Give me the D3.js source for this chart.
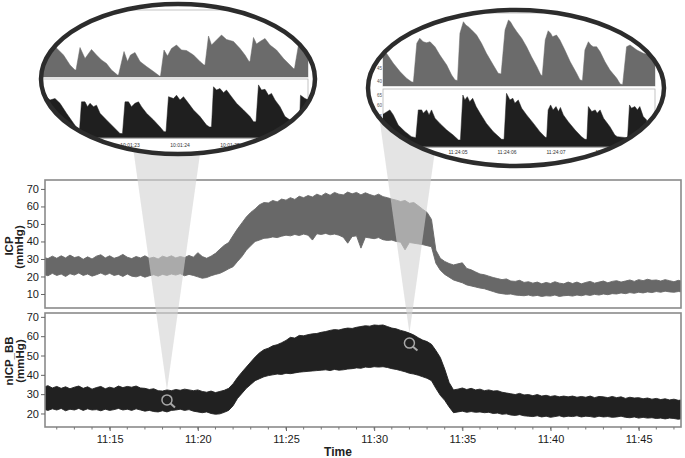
<!DOCTYPE html>
<html><head><meta charset="utf-8">
<script src="https://cdn.jsdelivr.net/npm/d3@7"></script>
<style>body{margin:0;background:#fff} svg{display:block} text{font-family:"Liberation Sans",Arial,sans-serif}</style>
</head><body><svg id="c" width="685" height="458"></svg>
<script>
// ---------- DATA ----------
const sampleStart = "11:11:15";   // first envelope sample
const sampleStepSec = 15;          // envelope sample spacing
const icpUpper = [
31.0,30.2,31.6,30.4,31.8,30.6,32.2,30.8,31.4,29.8,
31.2,30.0,31.6,32.4,30.6,31.8,30.4,31.2,32.6,31.0,
30.2,31.4,30.6,31.8,30.4,31.0,30.0,31.6,30.8,31.8,
30.6,31.4,30.8,32.0,31.0,33.6,31.4,30.4,31.6,33.2,
35.6,37.8,39.4,43.4,47.2,50.6,54.0,56.6,58.6,61.0,
62.2,62.0,63.4,62.6,64.2,63.6,65.0,64.0,65.8,65.0,
66.2,65.4,67.0,66.0,67.6,66.4,68.0,67.0,66.6,68.2,
67.2,68.0,66.6,67.8,66.8,66.0,67.0,65.6,65.0,64.2,
63.6,62.8,63.4,61.8,62.2,60.4,58.4,56.6,52.6,35.0,
30.4,28.6,27.4,26.6,27.2,27.8,24.6,23.8,22.6,21.4,
21.0,20.2,19.4,18.8,18.2,18.6,17.4,17.2,17.8,16.6,
17.0,16.2,16.8,15.8,16.6,16.0,17.0,16.2,15.8,16.8,
16.0,16.8,15.8,16.6,17.2,16.2,16.8,17.4,16.4,17.2,
17.6,16.8,17.4,18.0,17.2,18.2,17.6,18.4,17.8,18.0,
17.4,18.2,17.6,17.0,17.8,17.2];
const icpLower = [
21.2,20.4,21.8,20.6,21.4,20.0,21.6,20.8,22.0,20.6,
21.4,20.2,21.0,22.0,20.8,21.8,20.6,21.2,20.0,21.4,
20.2,19.8,20.6,19.6,20.4,21.0,20.2,21.2,20.6,21.4,
20.8,21.6,20.4,21.2,20.6,19.8,19.0,19.4,20.4,21.2,
21.8,23.0,24.4,25.6,28.6,31.4,35.0,37.6,40.0,40.8,
41.8,42.0,42.6,42.2,43.0,43.6,43.2,44.0,43.4,44.2,
43.6,40.8,44.4,44.0,44.6,43.8,44.2,43.6,42.4,39.0,
42.8,43.2,36.2,42.4,42.0,41.6,42.2,41.0,40.6,40.8,
40.0,39.6,35.2,39.4,39.0,38.6,38.2,37.6,37.0,27.6,
23.6,21.2,19.6,18.0,17.2,16.4,15.2,14.6,14.0,13.4,
13.0,12.2,11.4,10.6,10.2,9.8,10.0,9.4,9.2,9.0,
9.4,8.8,9.2,8.6,9.0,8.8,9.4,8.6,9.0,9.2,
8.8,9.4,9.0,9.6,9.2,9.8,9.4,10.0,9.6,10.2,
10.0,10.6,10.2,10.8,10.4,11.0,10.6,11.2,10.8,11.4,
11.0,11.6,11.2,11.0,11.4,11.2];
const nicpUpper = [
33.6,34.4,33.2,34.0,33.0,33.8,32.8,33.6,34.2,33.0,
33.8,32.6,33.4,34.0,32.8,33.6,33.0,34.2,33.4,34.0,
33.6,34.2,33.2,33.0,32.4,32.8,31.8,31.6,32.2,31.8,
32.4,32.0,32.6,32.2,31.8,32.2,31.4,31.0,31.6,30.8,
31.4,32.0,33.0,35.4,38.6,41.4,44.0,46.6,49.2,51.4,
53.0,53.8,55.0,55.6,56.6,57.8,59.4,59.0,60.4,60.2,
60.8,61.2,61.4,62.0,62.4,63.0,63.4,63.2,63.8,64.2,
64.0,64.6,65.0,65.4,65.2,65.8,65.6,65.8,65.0,64.2,
63.8,63.0,62.4,61.6,60.6,59.2,58.0,57.2,55.8,52.6,
49.0,43.0,36.0,32.2,32.6,33.2,32.4,33.0,32.2,32.6,
31.8,32.2,31.6,31.8,31.0,30.6,30.2,29.8,30.4,29.6,
29.8,29.2,29.8,29.0,29.4,28.8,29.2,28.6,29.0,28.6,
29.0,28.4,28.8,28.4,29.0,28.2,28.8,28.6,28.2,28.8,
28.2,28.6,27.8,28.4,28.0,28.2,27.6,28.0,27.4,27.8,
27.2,27.6,27.0,27.4,26.8,27.0];
const nicpLower = [
22.2,21.6,22.4,21.8,22.6,21.4,22.2,21.8,22.6,21.6,
22.4,21.8,22.0,21.4,22.2,21.6,22.0,22.6,21.8,22.2,
21.6,22.4,21.8,21.2,21.6,21.0,20.8,21.4,20.8,21.6,
21.8,22.2,21.6,22.0,21.2,20.8,20.4,20.8,20.0,19.6,
19.8,20.6,21.6,24.0,27.8,30.4,33.0,35.0,37.0,38.0,
39.0,39.6,40.0,40.4,40.2,40.8,40.6,41.0,41.4,41.6,
41.8,42.0,42.2,42.4,42.6,42.2,42.8,42.4,42.6,43.0,
43.2,43.6,43.4,44.0,43.8,44.2,44.0,44.2,43.8,43.2,
42.8,42.2,41.6,40.8,40.4,39.8,39.0,38.2,37.0,33.0,
29.4,26.8,23.4,20.4,20.8,21.2,20.6,21.0,20.6,20.8,
20.4,20.6,20.0,20.2,19.6,19.8,19.2,19.0,19.4,18.8,
18.6,18.4,18.8,18.2,18.6,18.0,18.4,18.8,18.2,18.6,
18.4,18.8,18.2,18.6,18.4,18.0,18.6,18.2,18.4,18.0,
18.2,18.6,18.0,17.8,18.2,17.6,18.0,17.6,17.8,17.4,
17.6,17.2,17.6,17.4,17.0,17.4];
const yTicksICP = [10,20,30,40,50,60,70];
const yTicksNICP = [20,30,40,50,60,70];
const xTickLabels = ["11:15","11:20","11:25","11:30","11:35","11:40","11:45"];
const zoomTimes = ["11:18:15","11:32:00"];

// inset waveforms: [seconds, mmHg]
const insetL_icp = [
[21.23,26.4],[21.37,28.1],[21.47,27.4],[21.57,26.4],[21.67,25.4],[21.8,23.4],[21.9,22.4],
[21.92,22.4],[22.0,26.9],[22.1,24.7],[22.23,26.5],[22.33,25.4],[22.43,24.4],[22.53,23.7],[22.63,22.4],[22.75,21.4],
[22.77,21.4],[22.88,26.1],[22.95,24.1],[23.01,25.4],[23.1,25.9],[23.2,24.1],[23.33,23.1],[23.47,22.1],[23.59,21.2],
[23.61,21.2],[23.68,26.4],[23.75,25.2],[23.83,26.7],[23.93,27.4],[24.03,26.4],[24.13,26.3],[24.27,25.4],[24.4,24.1],[24.48,23.4],
[24.5,23.4],[24.57,29.2],[24.63,27.4],[24.7,28.1],[24.83,29.4],[24.93,28.5],[25.07,28.1],[25.2,26.7],[25.3,25.4],[25.38,24.1],
[25.4,24.1],[25.47,28.9],[25.53,27.6],[25.6,28.1],[25.7,28.7],[25.8,27.4],[25.93,26.4],[26.07,24.7],[26.2,23.4],[26.27,22.7],
[26.29,22.7],[26.37,27.4],[26.47,26.4],[26.57,25.7]];
const insetL_nicp = [
[21.23,30.3],[21.33,31.2],[21.4,30.3],[21.5,30.7],[21.6,29.4],[21.73,26.7],[21.87,24.0],[21.97,22.1],
[21.99,22.1],[22.03,29.8],[22.1,29.8],[22.15,28.5],[22.2,29.4],[22.27,28.5],[22.33,28.9],[22.4,26.7],[22.53,24.9],[22.67,23.0],[22.8,21.2],
[22.85,21.2],[22.9,29.8],[22.97,29.8],[23.03,28.5],[23.1,29.4],[23.17,29.8],[23.23,28.5],[23.33,26.7],[23.47,24.9],[23.6,23.0],[23.68,21.7],
[23.72,21.7],[23.77,31.2],[23.87,30.7],[23.93,31.6],[24.0,30.3],[24.07,31.2],[24.17,29.4],[24.27,27.6],[24.4,25.8],[24.53,23.5],[24.59,23.0],
[24.63,23.0],[24.67,33.9],[24.73,33.0],[24.8,33.4],[24.87,32.3],[24.93,33.0],[25.03,31.2],[25.13,29.4],[25.27,27.6],[25.4,25.8],[25.47,24.4],
[25.52,24.4],[25.57,34.4],[25.63,33.0],[25.7,33.2],[25.77,31.6],[25.83,32.1],[25.9,30.3],[26.0,28.5],[26.1,25.8],[26.2,24.9],[26.37,24.0],
[26.39,24.0],[26.41,31.6],[26.5,30.7],[26.57,30.3]];
const insetR_icp = [
[3.44,52.4],[3.54,51.1],[3.68,47.1],[3.82,43.7],[3.95,41.1],[4.05,39.7],
[4.09,39.5],[4.16,55.1],[4.22,57.1],[4.29,55.7],[4.36,55.3],[4.43,55.7],[4.53,53.7],[4.63,50.4],[4.77,46.4],[4.87,42.4],[4.94,40.4],
[4.99,40.2],[5.04,59.1],[5.11,63.7],[5.16,62.4],[5.21,61.7],[5.28,60.4],[5.38,58.4],[5.48,55.1],[5.58,51.1],[5.72,46.4],[5.82,43.1],
[5.88,42.8],[5.96,60.4],[6.03,64.4],[6.07,63.7],[6.13,61.7],[6.2,59.7],[6.3,57.1],[6.4,53.7],[6.5,49.7],[6.61,45.7],[6.69,42.4],
[6.72,42.2],[6.78,56.4],[6.84,60.1],[6.89,59.1],[6.93,57.7],[7.01,58.4],[7.08,56.4],[7.18,52.4],[7.29,47.7],[7.42,43.1],[7.49,40.4],
[7.54,40.2],[7.59,52.4],[7.66,55.7],[7.71,54.4],[7.76,53.7],[7.83,53.7],[7.9,51.7],[8.0,47.7],[8.1,44.4],[8.24,41.1],[8.31,38.8],
[8.36,38.6],[8.44,53.7],[8.51,54.4],[8.65,52.4],[8.78,51.1],[9.02,49.7]];
const insetR_nicp = [
[3.45,55.5],[3.61,57.9],[3.68,55.5],[3.78,50.6],[3.92,47.4],[4.05,45.0],
[4.14,44.5],[4.19,57.9],[4.26,57.9],[4.29,56.3],[4.36,57.9],[4.41,55.5],[4.46,57.9],[4.53,53.9],[4.63,51.4],[4.77,48.2],[4.9,45.8],[5.01,43.4],
[5.05,43.4],[5.1,65.1],[5.14,62.7],[5.19,64.3],[5.24,61.9],[5.3,63.5],[5.37,59.5],[5.45,56.3],[5.58,51.4],[5.72,47.4],[5.89,43.7],
[5.94,43.7],[5.99,65.9],[6.06,62.7],[6.12,63.5],[6.16,61.1],[6.23,62.7],[6.3,58.7],[6.4,55.5],[6.54,51.4],[6.67,47.4],[6.78,44.7],
[6.81,44.7],[6.84,57.9],[6.89,60.3],[6.94,57.9],[7.0,59.5],[7.05,57.1],[7.09,59.1],[7.15,55.5],[7.25,52.2],[7.39,48.2],[7.52,45.0],[7.59,43.7],
[7.63,43.7],[7.66,59.5],[7.73,57.1],[7.8,57.9],[7.84,56.3],[7.9,57.9],[7.97,53.9],[8.1,49.8],[8.2,45.8],[8.25,45.0],[8.44,44.5],
[8.46,44.5],[8.5,60.3],[8.54,58.7],[8.61,59.5],[8.66,57.9],[8.71,59.5],[8.78,54.7],[8.85,53.0]];
const insetL_secTicks = [22,23,24,25,26];
const insetR_secTicks = [4,5,6,7,8];
const insetL_prefix = "10:01:";
const insetR_prefix = "11:24:";
const insetL_yTicksTop = [22,24,26,28,30,32,34];
const insetL_yTicksBot = [22,24,26,28,30,32,34];
const insetR_yTicksTop = [40,45,50,55,60,65];
const insetR_yTicksBot = [45,50,55,60,65];

// ---------- DRAW ----------
const svg = d3.select("#c");
const defs = svg.append("defs");
const parseHMS = d3.timeParse("%H:%M:%S"), parseHM = d3.timeParse("%H:%M");
const t0 = parseHMS(sampleStart);
const times = icpUpper.map((_, i) => new Date(t0.getTime() + i * sampleStepSec * 1000));

const L = 45, R = 681;
const A = {top: 180, bot: 308}, B = {top: 313, bot: 427};
const x = d3.scaleTime().domain([parseHMS("11:11:20"), parseHMS("11:47:24")]).range([L, R]);
const yA = d3.scaleLinear().domain([2, 75.1]).range([A.bot, A.top]);
const yB = d3.scaleLinear().domain([13, 72]).range([B.bot, B.top]);
const font = "'Liberation Sans',Arial,sans-serif";

function clipRect(id, x0, y0, x1, y1) {
  defs.append("clipPath").attr("id", id).append("rect")
    .attr("x", x0).attr("y", y0).attr("width", x1 - x0).attr("height", y1 - y0);
}
clipRect("cA", L, A.top, R, A.bot);
clipRect("cB", L, B.top, R, B.bot);

const areaA = d3.area().x((d, i) => x(times[i])).y0((d, i) => yA(icpLower[i])).y1(d => yA(d));
const areaB = d3.area().x((d, i) => x(times[i])).y0((d, i) => yB(nicpLower[i])).y1(d => yB(d));

svg.append("g").attr("clip-path", "url(#cA)").append("path").datum(icpUpper)
  .attr("d", areaA).attr("fill", "#686868").attr("stroke", "#686868").attr("stroke-width", 0.9);
svg.append("g").attr("clip-path", "url(#cB)").append("path").datum(nicpUpper)
  .attr("d", areaB).attr("fill", "#212121").attr("stroke", "#212121").attr("stroke-width", 0.9);

// frames
[A, B].forEach(p => svg.append("rect").attr("x", L).attr("y", p.top).attr("width", R - L)
  .attr("height", p.bot - p.top).attr("fill", "none").attr("stroke", "#8a8a8a").attr("stroke-width", 1.6));

// axes
function styleAxis(g) {
  g.select(".domain").remove();
  g.selectAll(".tick line").attr("stroke", "#666");
  g.selectAll(".tick text").attr("font-size", 11).attr("fill", "#1a1a1a").attr("font-family", font);
}
svg.append("g").attr("transform", `translate(${L},0)`)
  .call(d3.axisLeft(yA).tickValues(yTicksICP).tickSize(4).tickPadding(2)).call(styleAxis);
svg.append("g").attr("transform", `translate(${L},0)`)
  .call(d3.axisLeft(yB).tickValues(yTicksNICP).tickSize(4).tickPadding(2)).call(styleAxis);
svg.append("g").attr("transform", `translate(0,${B.bot})`)
  .call(d3.axisBottom(x).tickValues(xTickLabels.map(parseHM)).tickFormat(d3.timeFormat("%H:%M")).tickSize(4).tickPadding(4))
  .call(styleAxis);
svg.append("g").selectAll("line").data(d3.timeMinute.range(parseHMS("11:12:00"), parseHMS("11:47:01")))
  .join("line").attr("x1", d => x(d)).attr("x2", d => x(d)).attr("y1", B.bot).attr("y2", B.bot + 2.5)
  .attr("stroke", "#777").attr("stroke-width", 1);

// axis titles
function vtext(xp, yp, s) {
  svg.append("text").attr("transform", `translate(${xp},${yp}) rotate(-90)`).attr("text-anchor", "middle")
    .attr("font-size", 11.5).attr("font-weight", "bold").attr("fill", "#222").attr("font-family", font).text(s);
}
vtext(13, 246, "ICP"); vtext(23, 247, "(mmHg)");
vtext(13, 361, "nICP_BB"); vtext(24, 361, "(mmHg)");
svg.append("text").attr("x", 338).attr("y", 456).attr("text-anchor", "middle").attr("font-size", 12)
  .attr("font-weight", "bold").attr("fill", "#222").attr("font-family", font).text("Time");

// insets geometry
const insetGeo = [
  {id: "iL", cx: 178, cy: 79, rx: 137, ry: 75, x0: 42, x1: 308, top: [10, 77], bot: [79, 138], labY: 147,
   sDom: [21.24, 26.56], yDomTop: [21, 34.4], yDomBot: [20, 36], dataTop: insetL_icp, dataBot: insetL_nicp,
   yTicksTop: insetL_yTicksTop, yTicksBot: insetL_yTicksBot, secTicks: insetL_secTicks, prefix: insetL_prefix},
  {id: "iR", cx: 516, cy: 88, rx: 148, ry: 78, x0: 383, x1: 655, top: [13, 86], bot: [89, 147], labY: 154,
   sDom: [3.47, 9.02], yDomTop: [38, 67.2], yDomBot: [40, 68], dataTop: insetR_icp, dataBot: insetR_nicp,
   yTicksTop: insetR_yTicksTop, yTicksBot: insetR_yTicksBot, secTicks: insetR_secTicks, prefix: insetR_prefix}
];

// funnels (drawn under the insets, which cover their upper ends)
const slope = 0.14;
zoomTimes.forEach((zt, k) => {
  const e = insetGeo[k];
  const td = parseHMS(zt);
  const idx = d3.minIndex(times, t => Math.abs(t - td));
  const ax = x(td), ay = yB(nicpUpper[idx]);
  const topY = e.cy + 0.2 * e.ry;
  const hw = slope * (ay - topY);
  svg.append("path").attr("d", `M${ax},${ay}L${ax - hw},${topY}L${ax + hw},${topY}Z`)
    .attr("fill", "#d4d4d4").attr("fill-opacity", 0.62);
  const mg = svg.append("g").attr("fill", "none").attr("stroke", "#a8a8a8");
  mg.append("circle").attr("cx", ax).attr("cy", ay + 10).attr("r", 5).attr("stroke-width", 1.5);
  mg.append("line").attr("x1", ax + 3.6).attr("y1", ay + 13.6).attr("x2", ax + 8).attr("y2", ay + 17.5)
    .attr("stroke-width", 2);
});

function inset(cfg) {
  const id = cfg.id;
  defs.append("clipPath").attr("id", id + "e").append("ellipse")
    .attr("cx", cfg.cx).attr("cy", cfg.cy).attr("rx", cfg.rx - 1).attr("ry", cfg.ry - 1);
  svg.append("ellipse").attr("cx", cfg.cx).attr("cy", cfg.cy).attr("rx", cfg.rx).attr("ry", cfg.ry).attr("fill", "#fff");
  const g = svg.append("g").attr("clip-path", `url(#${id}e)`);
  const sx = d3.scaleLinear().domain(cfg.sDom).range([cfg.x0, cfg.x1]);
  [["t", cfg.top, cfg.dataTop, cfg.yDomTop, "#6b6b6b", cfg.yTicksTop],
   ["b", cfg.bot, cfg.dataBot, cfg.yDomBot, "#1f1f1f", cfg.yTicksBot]].forEach(([k, p, data, dom, col, yt]) => {
    const sy = d3.scaleLinear().domain(dom).range([p[1], p[0]]);
    clipRect(id + k, cfg.x0, p[0], cfg.x1, p[1]);
    g.append("rect").attr("x", cfg.x0).attr("y", p[0]).attr("width", cfg.x1 - cfg.x0).attr("height", p[1] - p[0])
      .attr("fill", "#fff").attr("stroke", "#b5b5b5").attr("stroke-width", 0.8);
    g.append("g").attr("clip-path", `url(#${id + k})`).append("path").datum(data)
      .attr("d", d3.area().x(d => sx(d[0])).y0(p[1]).y1(d => sy(d[1])))
      .attr("fill", col).attr("stroke", col).attr("stroke-width", 0.5);
    g.append("g").selectAll("text").data(yt).join("text").attr("x", cfg.x0 - 1).attr("y", d => sy(d) + 1.6)
      .attr("text-anchor", "end").attr("font-size", 4.5).attr("fill", "#555").attr("font-family", font).text(d => d);
  });
  g.append("line").attr("x1", cfg.x0).attr("x2", cfg.x1).attr("y1", cfg.bot[1]).attr("y2", cfg.bot[1])
    .attr("stroke", "#888").attr("stroke-width", 1);
  g.append("g").selectAll("text").data(cfg.secTicks).join("text").attr("x", d => sx(d)).attr("y", cfg.labY)
    .attr("text-anchor", "middle").attr("font-size", 5).attr("fill", "#333").attr("font-family", font)
    .text(d => cfg.prefix + String(d).padStart(2, "0"));
  svg.append("ellipse").attr("cx", cfg.cx).attr("cy", cfg.cy).attr("rx", cfg.rx).attr("ry", cfg.ry)
    .attr("fill", "none").attr("stroke", "#2c2c2c").attr("stroke-width", 4.5);
}
insetGeo.forEach(inset);
</script></body></html>
